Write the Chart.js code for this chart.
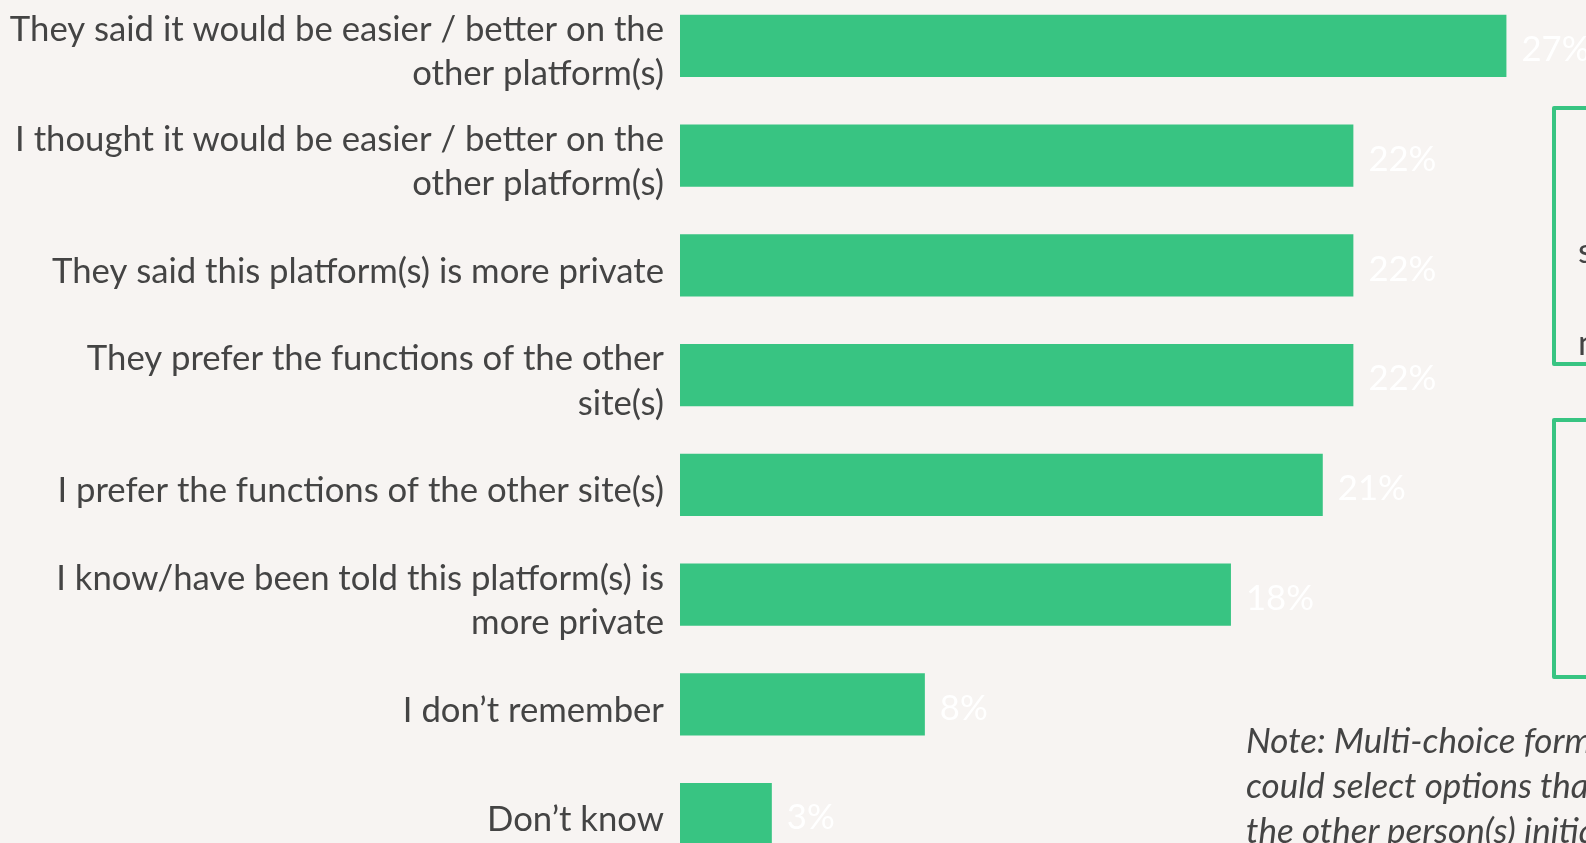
<!DOCTYPE html>
<html>
<head>
<meta charset="utf-8">
<script src="https://cdn.jsdelivr.net/npm/chart.js@4"></script>
<style>
  html, body { margin: 0; padding: 0; width: 1586px; height: 843px; overflow: hidden; background: #F7F4F2; }
  #wrap { position: absolute; left: 0; top: -9px; width: 1586px; height: 878px; }
  .box { position: absolute; border: 4px solid #38C482; border-radius: 2px; box-sizing: border-box; }
  .box span { position: absolute; font-family: Lato, sans-serif; font-size: 35px; color: #444; line-height: 1; }
  #note { position: absolute; left: 1246px; top: 717px; font-family: Lato, sans-serif; font-style: italic; font-size: 35px; line-height: 45px; color: #444; white-space: nowrap; }
</style>
</head>
<body>
<div id="wrap"><canvas id="chart"></canvas></div>
<div class="box" style="left:1552px; top:106px; width:120px; height:260px;">
  <span style="left:22px; top:122px;">s</span>
  <span style="left:22px; top:214px;">n</span>
</div>
<div class="box" style="left:1552px; top:418px; width:120px; height:261px;"></div>
<div id="note">Note: Multi-choice format, respondents<br>could select options that applied<br>the other person(s) initiating the move</div>
<script>
const categories = [
  ["They said it would be easier / better on the", "other platform(s)"],
  ["I thought it would be easier / better on the", "other platform(s)"],
  "They said this platform(s) is more private",
  ["They prefer the functions of the other", "site(s)"],
  "I prefer the functions of the other site(s)",
  ["I know/have been told this platform(s) is", "more private"],
  "I don\u2019t remember",
  "Don\u2019t know"
];
const shares = [27, 22, 22, 22, 21, 18, 8, 3];

const FONT = 'Lato, sans-serif';
const FONT_SIZE = 34.7;

// white percentage labels just past the end of each bar
const valueLabels = {
  id: 'valueLabels',
  afterDatasetsDraw(chart) {
    const ctx = chart.ctx;
    const meta = chart.getDatasetMeta(0);
    ctx.save();
    ctx.font = FONT_SIZE + 'px ' + FONT;
    ctx.fillStyle = '#FFFFFF';
    ctx.textAlign = 'left';
    ctx.textBaseline = 'middle';
    meta.data.forEach((bar, i) => {
      ctx.fillText(shares[i] + '%', bar.x + 15, bar.y + 4);
    });
    ctx.restore();
  }
};

new Chart(document.getElementById('chart'), {
  type: 'bar',
  data: {
    labels: categories,
    datasets: [{
      data: shares,
      backgroundColor: '#38C482',
      borderWidth: 0,
      categoryPercentage: 0.568,
      barPercentage: 1
    }]
  },
  options: {
    indexAxis: 'y',
    responsive: true,
    maintainAspectRatio: false,
    animation: false,
    layout: { padding: 0 },
    plugins: { legend: { display: false }, tooltip: { enabled: false } },
    scales: {
      x: { display: false, min: 0, max: 29.6 },
      y: {
        afterFit(scale) {
          // fixed label column; no extra room above/below the first and last rows
          scale.width = 680;
          scale.paddingTop = 0;
          scale.paddingBottom = 0;
        },
        grid: { display: false, drawTicks: false },
        border: { display: false },
        ticks: {
          padding: 16,
          labelOffset: 6,
          color: '#444444',
          font: { family: FONT, size: FONT_SIZE, lineHeight: 44.6 / FONT_SIZE }
        }
      }
    }
  },
  plugins: [valueLabels]
});
</script>
</body>
</html>
